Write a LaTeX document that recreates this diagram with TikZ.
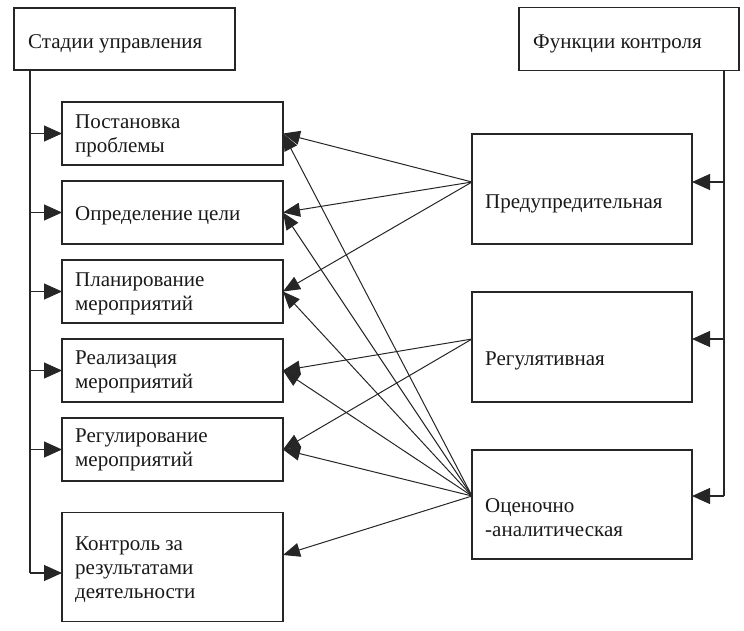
\documentclass[tikz,border=0pt]{standalone}
\usepackage{fontspec}
\setmainfont{Liberation Serif}
\usetikzlibrary{arrows.meta,calc}
\begin{document}
\begin{tikzpicture}[x=1pt,y=-1pt,
  box/.style={draw=black!85,line width=1.4pt,minimum width=221pt,inner sep=0pt,outer sep=0pt},
  txtm/.style={anchor=west,inner sep=0pt,align=left,font=\fontsize{21}{24}\selectfont,text=black!90},
  txt/.style={txtm,text height=14.5pt,text depth=4.5pt},
  arr/.style={line width=1.1pt,draw=black!85,-{Triangle[length=18pt,width=16pt]}},
  darr/.style={line width=1pt,draw=black!85,-{Triangle[length=17pt,width=14pt]}},
  ln/.style={line width=1.1pt,draw=black!85}]
\useasboundingbox (0,0) rectangle (744,630);
% boxes
\node[box,minimum height=62pt] (s) at (124.5,39) {};
\node[box,minimum width=220pt,minimum height=63pt] (f) at (629,39) {};
\node[box,minimum height=63pt] (b1) at (172.5,133.5) {};
\node[box,minimum height=63pt] (b2) at (172.5,212.5) {};
\node[box,minimum height=63pt] (b3) at (172.5,291.5) {};
\node[box,minimum height=63pt] (b4) at (172.5,370.5) {};
\node[box,minimum height=63pt] (b5) at (172.5,449.5) {};
\node[box,minimum height=109pt] (b6) at (172.5,567) {};
\node[box,minimum width=220pt,minimum height=110pt] (p) at (582,189) {};
\node[box,minimum width=220pt,minimum height=110pt] (r) at (582,347) {};
\node[box,minimum width=220pt,minimum height=109pt] (o) at (582,504.5) {};
% texts
\node[txt] (ts) at (28,43) {Стадии управления};
\node[txt] (tf) at (533,43) {Функции контроля};
\node[txtm] (t1) at (75,136) {Постановка\\проблемы};
\node[txt] (t2) at (75,215) {Определение цели};
\node[txtm] (t3) at (75,293.5) {Планирование\\мероприятий};
\node[txtm] (t4) at (75,371.5) {Реализация\\мероприятий};
\node[txtm] (t5) at (75,450) {Регулирование\\мероприятий};
\node[txtm] (t6) at (75,570) {Контроль за\\результатами\\деятельности};
\node[txt] (tp) at (485,203) {Предупредительная};
\node[txt] (tr) at (485,360) {Регулятивная};
\node[txtm] (to) at (485,517.5) {Оценочно\\-аналитическая};
% left trunk
\coordinate (lt) at (30,70);
\coordinate (lb) at (30,573);
\draw[ln] (lt) -- (lb);
\draw[arr] (lb) -- ($(b6.west)+(0,6)$);
\foreach \b in {b1,b2,b3,b4,b5}{\draw[arr] (lt |- \b.west) -- (\b.west);}
% right trunk
\coordinate (rt) at (724,71);
\coordinate (pp) at ($(p.west)+(0,-7)$);
\coordinate (rp) at ($(r.west)+(0,-8)$);
\coordinate (op) at ($(o.west)+(0,-8.5)$);
\coordinate (rb) at (rt |- op);
\draw[ln] (rt) -- (rb);
\draw[arr] (rb) -- ($(o.east)+(0,-8.5)$);
\draw[arr] (rt |- pp) -- ($(p.east)+(0,-7)$);
\draw[arr] (rt |- rp) -- ($(r.east)+(0,-8)$);
% diagonal connectors
\foreach \b in {b1,b2,b3}{\draw[darr] (pp) -- (\b.east);}
\foreach \b in {b4,b5}{\draw[darr] (rp) -- (\b.east);}
\foreach \b in {b1,b2,b3,b4,b5}{\draw[darr] (op) -- (\b.east);}
\draw[darr] (op) -- ($(b6.east)+(0,-12)$);
\end{tikzpicture}
\end{document}
